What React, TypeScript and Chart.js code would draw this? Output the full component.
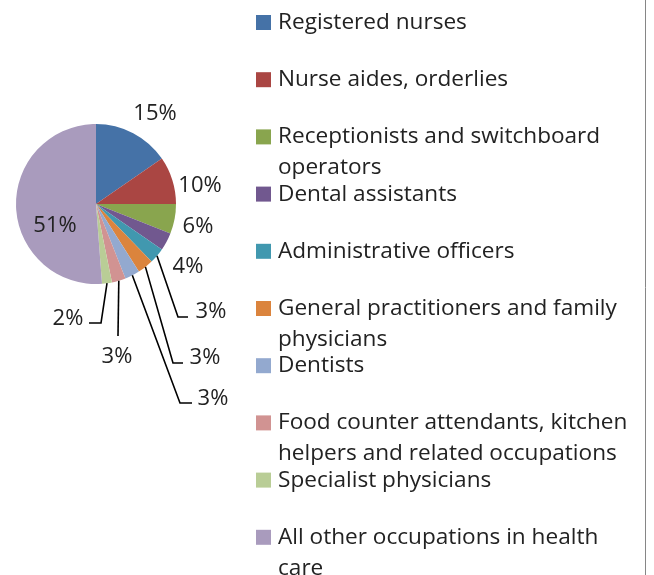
import React, { useEffect, useRef } from 'react';
import { Chart, registerables } from 'chart.js';

Chart.register(...registerables);

// ---- data ----
const categories = [
  'Registered nurses',
  'Nurse aides, orderlies',
  'Receptionists and switchboard operators',
  'Dental assistants',
  'Administrative officers',
  'General practitioners and family physicians',
  'Dentists',
  'Food counter attendants, kitchen helpers and related occupations',
  'Specialist physicians',
  'All other occupations in health care',
];
const shares = [15.4, 9.6, 6.0, 3.6, 3.2, 3.2, 3.0, 2.8, 2.0, 51.2];
const sliceColors = [
  '#4572A7', '#AA4643', '#89A54E', '#71588F', '#4198AF',
  '#DB843D', '#93A9CF', '#D19392', '#B9CD96', '#A99BBD',
];

// ---- label placement (relative to pie centre: text centre x, baseline y; leader path points) ----
const labelPlacement: { x: number; y: number; leader?: number[][] }[] = [
  { x: 59, y: -84 },
  { x: 104, y: -12 },
  { x: 102, y: 29 },
  { x: 92, y: 69 },
  { x: 115, y: 114, leader: [[82, 113], [92, 113]] },
  { x: 109, y: 160, leader: [[77, 159], [87, 159]] },
  { x: 117, y: 201, leader: [[84, 199], [96, 199]] },
  { x: 21, y: 159, leader: [[22, 132]] },
  { x: -28, y: 121, leader: [[5, 119], [-7, 119]] },
  { x: -41, y: 28 },
];

const FONT = '"Open Sans", Lato, sans-serif';
const TEXT_COLOR = '#222222';

const legendLayout = { x: 256, top: 15, step: 57.2, box: 15, textX: 278, lineH: 31, maxW: 355, size: 22.6 };

function wrap(ctx: CanvasRenderingContext2D, text: string, maxW: number): string[] {
  const words = text.split(' ');
  const lines: string[] = [];
  let cur = '';
  for (const w of words) {
    const t = cur ? cur + ' ' + w : w;
    if (cur && ctx.measureText(t).width > maxW) {
      lines.push(cur);
      cur = w;
    } else cur = t;
  }
  if (cur) lines.push(cur);
  return lines;
}

const decorPlugin = {
  id: 'decor',
  afterDraw(chart: any) {
    const ctx: CanvasRenderingContext2D = chart.ctx;
    const meta = chart.getDatasetMeta(0);
    const data: number[] = chart.data.datasets[0].data;
    ctx.save();
    // data labels with leader lines
    ctx.font = `22px ${FONT}`;
    ctx.fillStyle = TEXT_COLOR;
    ctx.textAlign = 'center';
    ctx.textBaseline = 'alphabetic';
    meta.data.forEach((arc: any, i: number) => {
      const p = arc.getProps(['x', 'y', 'startAngle', 'endAngle', 'outerRadius'], true);
      const place = labelPlacement[i];
      if (place.leader) {
        const mid = (p.startAngle + p.endAngle) / 2;
        ctx.beginPath();
        ctx.strokeStyle = '#000000';
        ctx.lineWidth = 1.6;
        ctx.moveTo(p.x + Math.cos(mid) * p.outerRadius, p.y + Math.sin(mid) * p.outerRadius);
        place.leader.forEach((pt) => ctx.lineTo(p.x + pt[0], p.y + pt[1]));
        ctx.stroke();
      }
      ctx.fillText(Math.round(data[i]) + '%', p.x + place.x, p.y + place.y);
    });

    // legend
    const L = legendLayout;
    ctx.font = `${L.size}px ${FONT}`;
    ctx.textAlign = 'left';
    chart.data.labels.forEach((label: string, i: number) => {
      const top = L.top + L.step * i;
      ctx.fillStyle = sliceColors[i];
      ctx.fillRect(L.x, top, L.box, L.box);
      ctx.fillStyle = TEXT_COLOR;
      const lines = wrap(ctx, label, L.maxW);
      lines.forEach((ln, j) => ctx.fillText(ln, L.textX, top + 14 + j * L.lineH));
    });

    // right border of chart frame
    ctx.beginPath();
    ctx.strokeStyle = '#868686';
    ctx.lineWidth = 1;
    ctx.moveTo(645.5, 0);
    ctx.lineTo(645.5, chart.height);
    ctx.stroke();
    ctx.restore();
  },
};

export default function App() {
  const ref = useRef<HTMLCanvasElement | null>(null);
  useEffect(() => {
    if (!ref.current) return;
    const chart = new Chart(ref.current, {
      type: 'pie',
      data: {
        labels: categories,
        datasets: [
          {
            data: shares,
            backgroundColor: sliceColors,
            borderWidth: 0,
            hoverOffset: 0,
          },
        ],
      },
      options: {
        responsive: false,
        animation: false,
        radius: 80,
        layout: { padding: { left: 16, top: 124, right: 478, bottom: 291 } },
        plugins: { legend: { display: false }, tooltip: { enabled: false } },
      } as any,
      plugins: [decorPlugin],
    });
    return () => chart.destroy();
  }, []);
  return (
    <div style={{ position: 'absolute', left: 0, top: 0, width: 654, height: 575, background: '#ffffff' }}>
      <canvas ref={ref} width={654} height={575} style={{ display: 'block' }} />
    </div>
  );
}
